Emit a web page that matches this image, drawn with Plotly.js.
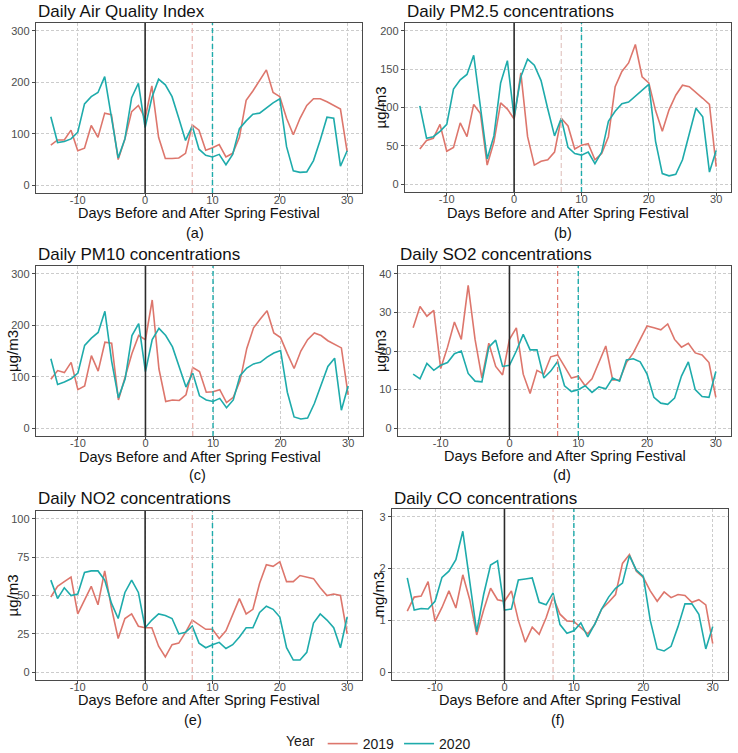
<!DOCTYPE html>
<html>
<head>
<meta charset="utf-8">
<script src="https://cdn.plot.ly/plotly-3.0.1.min.js"></script>
<style>html,body{margin:0;padding:0;background:#fff;}#chart{width:738px;height:753px;}</style>
</head>
<body>
<div id="chart"></div>
<script>
const days = [-14,-13,-12,-11,-10,-9,-8,-7,-6,-5,-4,-3,-2,-1,0,1,2,3,4,5,6,7,8,9,10,11,12,13,14,15,16,17,18,19,20,21,22,23,24,25,26,27,28,29,30];

const aqi2019 = [78,88,88,107,67,72,116,93,140,137,50,90,143,155,130,193,93,52,52,53,62,117,107,68,73,79,55,62,93,165,183,203,224,180,172,130,98,130,155,168,168,162,155,148,65];
const aqi2020 = [133,83,85,90,103,158,172,180,211,130,53,90,170,198,112,170,206,195,172,130,87,115,70,58,55,60,40,60,110,125,138,140,150,160,168,75,28,25,26,48,88,132,130,37,67];

const pm25_2019 = [46,57,60,78,43,48,80,62,104,92,25,55,106,98,85,145,62,25,30,32,42,86,76,46,51,53,32,40,62,127,147,158,182,140,132,96,69,97,116,129,127,120,112,104,23];
const pm25_2020 = [102,60,62,69,78,124,136,143,168,97,33,63,132,161,87,140,163,155,135,98,63,86,48,40,38,42,27,42,82,95,105,107,115,123,130,56,14,11,13,32,64,99,88,16,44];

const pm10_2019 = [95,112,108,128,75,82,141,111,167,165,55,100,145,180,172,249,115,52,55,54,65,118,110,70,71,75,50,60,92,155,195,212,228,185,176,145,116,150,172,185,180,170,163,156,65];
const pm10_2020 = [135,85,90,96,107,161,175,186,227,130,59,96,180,203,110,172,194,180,158,117,80,107,63,55,52,58,40,55,102,117,125,128,138,146,151,70,22,18,20,48,83,120,136,35,82];

const so2_2019 = [26,31.5,29,30.5,15.5,21,27.5,23,37,23,13,22,16,13.8,23,26,14,9,15,14,18.5,19,16,13,13.5,11,12.8,17,21.3,12.5,12.5,17,19.5,23,26.5,26,25.5,27,23,21,22,19.5,19,17,8];
const so2_2020 = [14,12.8,16.8,15,16.3,17,19.3,20,14.2,12.2,12,21,22.8,16,16.3,20,24.3,20.3,20.3,13,14.8,17.3,11,9.5,10,11,9.3,10.7,10.2,13,12.2,17.7,18,17.2,14,8,6.5,6.2,7.8,13.5,17.2,10,8.2,8,14.7];

const no2_2019 = [49,56,59,62,38,47,56,44,66,42,22,35,38,30,29,29,17,10,18,19,26,34,31,28,28,22,27,37,48,38,41,58,70,69,72,59,59,63,62,61,55,50,51,50,25];
const no2_2020 = [60,48,55,50,51,65,66,66,60,45,35,52,60,52,29,34,38,37,35,25,26,30,19,16,18,19.5,15.5,18,23,29,29,39,43,41,36,16,8,8,13,32,38,34,29,16,36];

const co2019 = [1.18,1.45,1.47,1.75,0.98,1.25,1.57,1.24,1.88,1.40,0.72,1.20,1.62,1.40,1.37,1.57,1.00,0.58,0.87,0.73,1.05,1.45,1.12,0.99,0.98,0.85,0.74,0.92,1.22,1.35,1.50,2.10,2.27,1.95,1.83,1.57,1.37,1.55,1.44,1.50,1.48,1.35,1.40,1.30,0.55];
const co2020 = [1.82,1.20,1.23,1.22,1.37,1.83,1.95,2.17,2.72,1.70,0.78,1.50,2.07,2.15,1.20,1.22,1.78,1.80,1.82,1.35,1.30,1.53,0.92,0.75,0.80,0.95,0.68,0.93,1.22,1.45,1.62,1.72,2.25,1.97,1.85,1.00,0.45,0.41,0.50,0.88,1.32,1.32,1.12,0.45,0.88];

const panelTitles = ["Daily Air Quality Index","Daily PM2.5 concentrations","Daily PM10 concentrations","Daily SO2 concentrations","Daily NO2 concentrations","Daily CO concentrations"];
const panelLabels = ["(a)","(b)","(c)","(d)","(e)","(f)"];
const yTitles = ["","µg/m3","µg/m3","µg/m3","µg/m3","mg/m3"];
const xTitle = "Days Before and After Spring Festival";
const seriesNames = ["2019","2020"];
const xTicks = [-10,0,10,20,30];
const yTicks = [[0,100,200,300],[0,50,100,150,200],[0,100,200,300],[0,10,20,30,40],[0,25,50,75,100],[0,1,2,3]];
const yRanges = [[-15,315],[-10,210],[-15,315],[-2,42],[-5,105],[-0.15,3.15]];
const series = [[aqi2019,aqi2020],[pm25_2019,pm25_2020],[pm10_2019,pm10_2020],[so2_2019,so2_2020],[no2_2019,no2_2020],[co2019,co2020]];

const W = 738, H = 753;
// pixel boxes [left, right, top, bottom]
const boxes = [[36,362,23,193],[405,731,23,192],[36,363,266,436],[398,731,266,436],[36,362,511,680],[392,728,509,680]];
const titleY = [12,12,255,255,498,498];
const xTitleY = [213,213,457,456,700,700];
const labelY = [233,233,475,475,720,720];
const labelX = [195,563,197,562,193,558];
const yTitleX = [12,380,12,380,12,378];
const colors = ["#DD766C","#1EABAB"];
const vline7Colors = ["#EBB8B3","#E3C7C3","#E8AFA9","#E47A70","#E8B2AC","#E6BCB6"];

const font = "Liberation Sans, Arial, sans-serif";
const data = [];
const layout = {
  width: W, height: H,
  margin: {l:0,r:0,t:0,b:0,autoexpand:false},
  paper_bgcolor: "#ffffff",
  plot_bgcolor: "#ffffff",
  showlegend: true,
  legend: {orientation:"h", x:0.515, xanchor:"center", y:1-744/H, yanchor:"middle",
           title:{text:"Year", side:"left", font:{size:14, color:"#1a1a1a", family:font}},
           font:{size:14, color:"#1a1a1a", family:font}, itemwidth:30, tracegroupgap:0},
  annotations: [],
  shapes: []
};

for (let i = 0; i < 6; i++) {
  const n = i === 0 ? "" : String(i+1);
  const b = boxes[i];
  const dom = {x:[b[0]/W, b[1]/W], y:[1-b[3]/H, 1-b[2]/H]};
  const axCommon = {
    showline:true, mirror:true, linecolor:"#4a4a4a", linewidth:1.3,
    ticks:"outside", ticklen:3, tickcolor:"#4a4a4a", tickwidth:1,
    showgrid:true, gridcolor:"#cccccc", griddash:"3px,2px", gridwidth:1,
    zeroline:false, tickfont:{size:11, color:"#4d4d4d", family:font}
  };
  layout["xaxis"+n] = Object.assign({}, axCommon, {domain:dom.x, anchor:"y"+n, range:[-16.2,32.2], tickvals:xTicks, ticktext:xTicks.map(String), ticklabelstandoff:-7});
  layout["yaxis"+n] = Object.assign({}, axCommon, {domain:dom.y, anchor:"x"+n, range:yRanges[i], tickvals:yTicks[i], ticktext:yTicks[i].map(String)});

  for (let s = 0; s < 2; s++) {
    data.push({
      type:"scatter", mode:"lines", x:days, y:series[i][s], name:seriesNames[s],
      xaxis:"x"+n, yaxis:"y"+n, line:{color:colors[s], width:1.6},
      showlegend: i === 0, legendgroup: seriesNames[s], hoverinfo:"x+y"
    });
  }

  layout.shapes.push({type:"line", xref:"x"+n, yref:"y"+n+" domain", x0:0, x1:0, y0:0, y1:1, line:{color:"#2b2b2b", width:1.6}});
  layout.shapes.push({type:"line", xref:"x"+n, yref:"y"+n+" domain", x0:7, x1:7, y0:0, y1:1, line:{color:vline7Colors[i], width:1.2, dash:"5px,3px"}});
  layout.shapes.push({type:"line", xref:"x"+n, yref:"y"+n+" domain", x0:10, x1:10, y0:0, y1:1, line:{color:"#1EABAB", width:1.4, dash:"5px,3px"}});

  const cx = (b[0]+b[1])/2/W;
  layout.annotations.push({text:panelTitles[i], xref:"paper", yref:"paper", x:b[0]/W, y:1-titleY[i]/H, xanchor:"left", yanchor:"middle", showarrow:false, font:{size:17, color:"#111", family:font}});
  layout.annotations.push({text:xTitle, xref:"paper", yref:"paper", x:cx, y:1-xTitleY[i]/H, xanchor:"center", yanchor:"middle", showarrow:false, font:{size:14.5, color:"#111", family:font}});
  layout.annotations.push({text:panelLabels[i], xref:"paper", yref:"paper", x:labelX[i]/W, y:1-labelY[i]/H, xanchor:"center", yanchor:"middle", showarrow:false, font:{size:14.5, color:"#111", family:font}});
  if (yTitles[i]) {
    layout.annotations.push({text:yTitles[i], xref:"paper", yref:"paper", x:yTitleX[i]/W, y:1-(b[2]+b[3])/2/H, xanchor:"center", yanchor:"middle", textangle:-90, showarrow:false, font:{size:15, color:"#111", family:font}});
  }
}

Plotly.newPlot("chart", data, layout, {displayModeBar:false, staticPlot:true});
</script>
</body>
</html>
